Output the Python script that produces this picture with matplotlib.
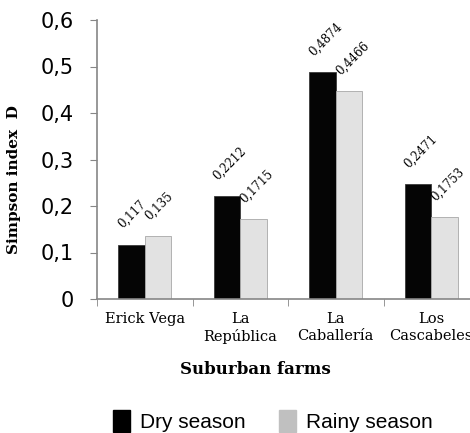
import matplotlib.pyplot as plt
import numpy as np
from matplotlib.ticker import FuncFormatter, FixedLocator
from matplotlib.patches import Patch

# Data
farms = ["Erick Vega", "La\nRepública", "La\nCaballería", "Los\nCascabeles"]
dry = [0.117, 0.2212, 0.4874, 0.2471]
rainy = [0.135, 0.1715, 0.4466, 0.1753]
dry_labels = ["0,117", "0,2212", "0,4874", "0,2471"]
rainy_labels = ["0,135", "0,1715", "0,4466", "0,1753"]

fig = plt.figure(figsize=(4.7, 4.33), dpi=100)
ax = fig.add_axes([97 / 470, 134 / 433, 382 / 470, 279 / 433])

x = np.arange(len(farms))
w = 0.28
ax.bar(x - w / 2, dry, w, color="#050505", edgecolor="#3a3a3a", linewidth=0.6)
ax.bar(x + w / 2, rainy, w, color="#e2e2e2", edgecolor="#a8a8a8", linewidth=0.6)

# Data labels, rotated 45 degrees
for i in range(len(farms)):
    ax.text(x[i] - w / 2 - 0.07, dry[i] + 0.03, dry_labels[i],
            rotation=45, rotation_mode="anchor", ha="left", va="bottom",
            family="DejaVu Serif", fontsize=8.5)
    ax.text(x[i] + w / 2 - 0.07, rainy[i] + 0.03, rainy_labels[i],
            rotation=45, rotation_mode="anchor", ha="left", va="bottom",
            family="DejaVu Serif", fontsize=8.5)

ax.set_xlim(-0.5, len(farms) - 0.5)
ax.set_ylim(0, 0.6)
ax.set_yticks(np.arange(0, 0.61, 0.1))
ax.yaxis.set_major_formatter(FuncFormatter(
    lambda v, p: "0" if abs(v) < 1e-9 else f"{v:.1f}".replace(".", ",")))
ax.tick_params(axis="y", labelsize=15, length=5, color="#868686", pad=12)

ax.set_xticks(x)
ax.set_xticklabels(farms, family="DejaVu Serif", fontsize=10.5, linespacing=1.25)
ax.tick_params(axis="x", which="major", length=0, pad=9.5)
ax.xaxis.set_minor_locator(FixedLocator(np.arange(-0.5, len(farms), 1)))
ax.tick_params(axis="x", which="minor", length=5, color="#868686")

for s in ["top", "right"]:
    ax.spines[s].set_visible(False)
for s in ["left", "bottom"]:
    ax.spines[s].set_color("#868686")
    ax.spines[s].set_linewidth(1.2)

fig.text(14 / 470, 1 - 180 / 433, "Simpson index  D", rotation=90,
         ha="center", va="center", family="DejaVu Serif",
         fontweight="bold", fontsize=11)
fig.text(255 / 470, 1 - 370 / 433, "Suburban farms", ha="center",
         va="center", family="DejaVu Serif", fontweight="bold", fontsize=12)

handles = [Patch(color="black", label="Dry season"),
           Patch(color="#c0c0c0", label="Rainy season")]
fig.legend(handles=handles, loc="center", bbox_to_anchor=(273 / 470, 1 - 421 / 433),
           ncol=2, frameon=False, handlelength=0.8, handleheight=1.2,
           handletextpad=0.5, columnspacing=1.6, borderpad=0,
           prop={"family": "Liberation Sans", "size": 15})

plt.savefig("out.png", dpi=100)
